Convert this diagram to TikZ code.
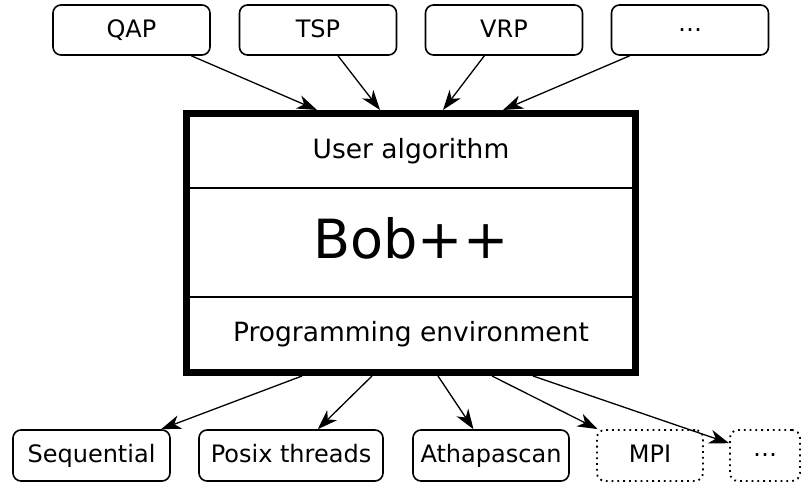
\documentclass[tikz,border=0pt]{standalone}
\usepackage{fontspec}
\setmainfont{DejaVu Sans}
\usetikzlibrary{arrows.meta, fit}

\begin{document}
\begin{tikzpicture}[x=1pt,y=1pt,
  app/.style={draw,rounded corners=8pt,line width=1.6pt,minimum width=157pt,
              minimum height=50pt,inner sep=0pt,text height=19pt,text depth=3pt,
              font=\fontsize{24}{28}\selectfont},
  lib/.style={draw,rounded corners=8pt,line width=1.6pt,minimum height=51pt,
              inner sep=0pt,text height=18pt,text depth=5pt,
              font=\fontsize{24}{28}\selectfont},
  planned/.style={lib,line width=1.8pt,dash pattern=on 1.8pt off 4pt},
  layer/.style={draw,line width=1.4pt,minimum width=448pt,inner sep=0pt,
                font=\fontsize{26.5}{30}\selectfont},
  arr/.style={-{Stealth[length=20pt,width=14pt,inset=6pt]},line width=1.3pt}
]
\useasboundingbox (0,0) rectangle (802,484);

% Applications
\node[app] (qap)     at (131.5,454) {QAP};
\node[app] (tsp)     at (318,454)   {TSP};
\node[app] (vrp)     at (504,454)   {VRP};
\node[app] (moreapp) at (690,454)   {⋯};

% Bob++ layers
\node[layer,minimum height=74pt]  (user) at (411,333)   {User algorithm};
\node[layer,minimum height=109pt,text depth=10pt,font=\fontsize{54}{60}\selectfont] (core) at (411,241.5) {Bob++};
\node[layer,minimum height=75pt]  (penv) at (411,149.5) {Programming environment};
\node[draw,line width=7pt,inner sep=0pt,fit=(user)(core)(penv)] (bob) {};

% Environments
\node[lib,minimum width=157pt] (seq)   at (91.5,28.5) {Sequential};
\node[lib,minimum width=184pt] (posix) at (291,28.5)  {Posix threads};
\node[lib,minimum width=156pt] (atha)  at (491,28.5)  {Athapascan};
\node[planned,minimum width=106pt] (mpi)     at (650,28.5) {MPI};
\node[planned,minimum width=70pt]  (moreenv) at (765,28.5) {⋯};

% Ports on the frame
\coordinate (in1) at (317,374);
\coordinate (in2) at (380,374);
\coordinate (in3) at (443,374);
\coordinate (in4) at (503,374);
\coordinate (out1) at (302,108);
\coordinate (out2) at (372,108);
\coordinate (out3) at (438,108);
\coordinate (out4) at (492,108);
\coordinate (out5) at (533,108);

\draw[arr] (qap) -- (in1);
\draw[arr] (tsp) -- (in2);
\draw[arr] (vrp) -- (in3);
\draw[arr] (moreapp) -- (in4);

\draw[arr] (out1) -- (seq);
\draw[arr] (out2) -- (posix);
\draw[arr] (out3) -- (atha);
\draw[arr] (out4) -- (mpi);
\draw[arr] (out5) -- (moreenv);
\end{tikzpicture}
\end{document}
